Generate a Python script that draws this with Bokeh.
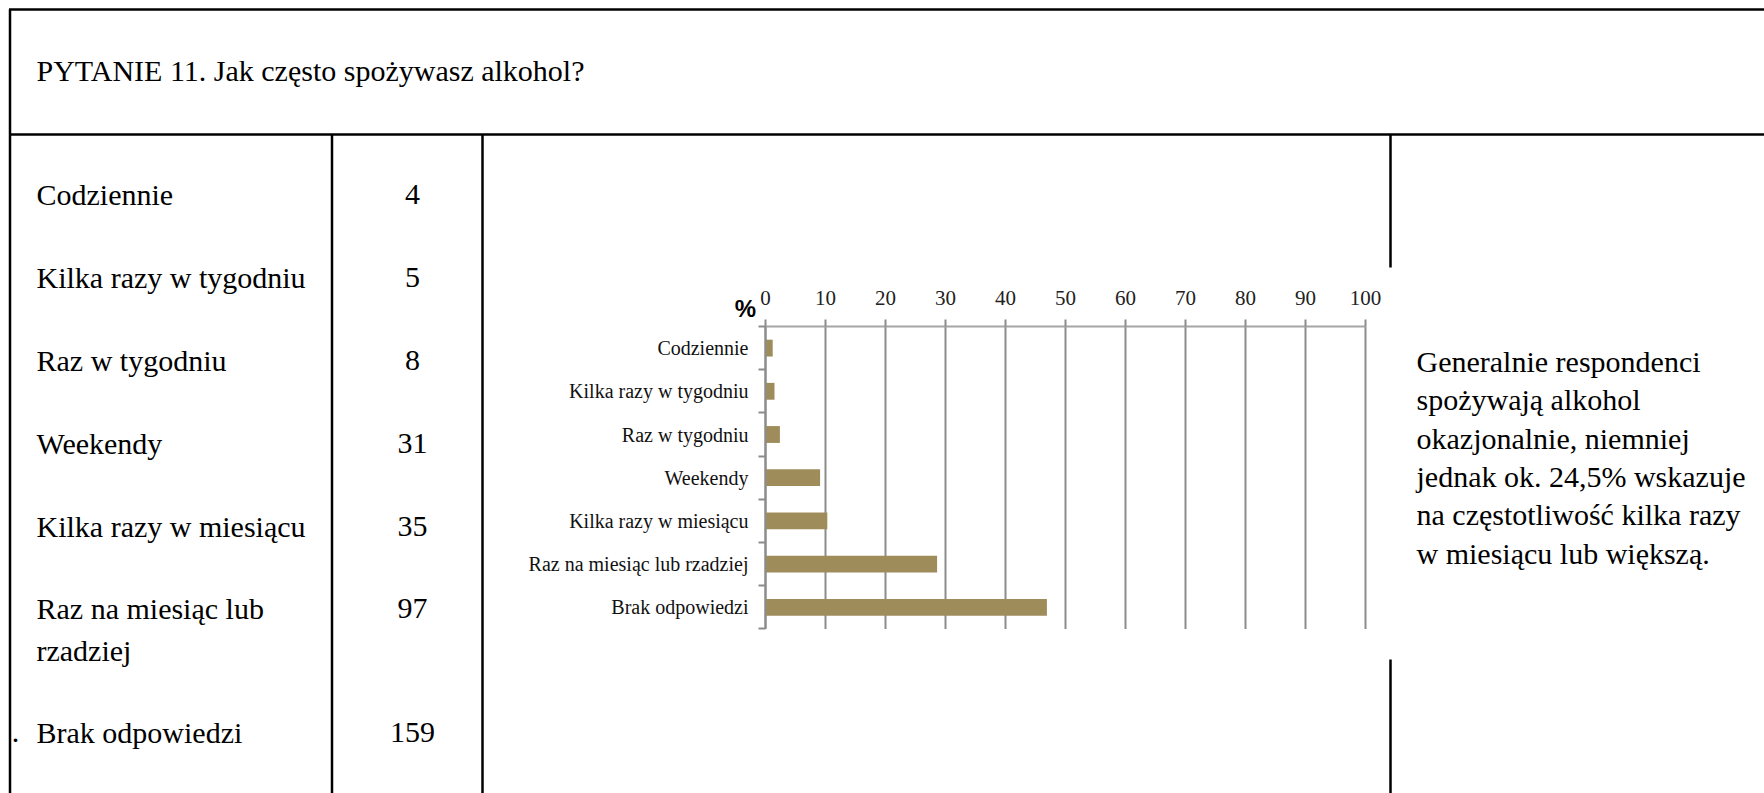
from bokeh.plotting import figure
from bokeh.models import Range1d, LinearAxis, FixedTicker
from bokeh.embed import file_html
from bokeh.resources import INLINE
from bokeh.core.properties import value

# ---------------- data ----------------
title_text = "PYTANIE 11. Jak często spożywasz alkohol?"
table_labels = ["Codziennie", "Kilka razy w tygodniu", "Raz w tygodniu", "Weekendy",
                "Kilka razy w miesiącu", "Raz na miesiąc lub\nrzadziej", "Brak odpowiedzi"]
table_counts = [4, 5, 8, 31, 35, 97, 159]
chart_categories = ["Codziennie", "Kilka razy w tygodniu", "Raz w tygodniu", "Weekendy",
                    "Kilka razy w miesiącu", "Raz na miesiąc lub rzadziej", "Brak odpowiedzi"]
chart_percent = [1.2, 1.5, 2.4, 9.1, 10.3, 28.6, 46.9]
x_ticks = [0, 10, 20, 30, 40, 50, 60, 70, 80, 90, 100]
axis_unit = "%"
comment_lines = ["Generalnie respondenci", "spożywają alkohol", "okazjonalnie, niemniej",
                 "jednak ok. 24,5% wskazuje", "na częstotliwość kilka razy",
                 "w miesiącu lub większą."]

# ---------------- layout (page pixels) ----------------
W, H = 1764, 793
OX, OY = 0, 0
BOTTOM = OY + H
RIGHT = OX + W
SERIF = value("Liberation Serif")

p = figure(width=W, height=H, x_range=Range1d(OX, RIGHT), y_range=Range1d(BOTTOM, OY),
           min_border=0, toolbar_location=None, output_backend="svg",
           x_axis_type=None, y_axis_type=None, outline_line_color=None,
           background_fill_color="white", border_fill_color="white")

# chart coordinate system (percent on x, category slots on y)
P0, PS = 765.0, 6.0      # pixel of 0 %, pixels per percent
C0, CS = 326.0, 43.2     # pixel of first slot top, pixels per slot
p.extra_x_ranges = {"pct": Range1d((OX - P0) / PS, (RIGHT - P0) / PS)}
p.extra_y_ranges = {"cat": Range1d((BOTTOM - C0) / CS, (OY - C0) / CS)}

# ---------------- table lines ----------------
seg_x0 = [8.5, 9.5, 9.5, 331.5, 482.0, 1390.0, 1390.0]
seg_y0 = [9.0, 134.0, 9.0, 134.0, 134.0, 134.0, 659.0]
seg_x1 = [RIGHT, RIGHT, 9.5, 331.5, 482.0, 1390.0, 1390.0]
seg_y1 = [9.0, 134.0, BOTTOM, BOTTOM, BOTTOM, 267.0, BOTTOM]
p.segment(x0=seg_x0, y0=seg_y0, x1=seg_x1, y1=seg_y1, line_color="black", line_width=2.5)

# header
p.text(x=[36], y=[70], text=[title_text], text_font=SERIF, text_font_size="30px",
       text_baseline="middle", text_align="left", text_color="black")

# table rows
row_y = [194, 277, 360, 442.5, 525.5, 608, 732]
lx, ly, lt = [], [], []
for lab, yy in zip(table_labels, row_y):
    for j, line in enumerate(lab.split("\n")):
        lx.append(36)
        ly.append(yy + j * 42)
        lt.append(line)
p.text(x=lx, y=ly, text=lt, text_font=SERIF, text_font_size="30px",
       text_baseline="middle", text_align="left", text_color="black")
p.text(x=[412] * len(table_counts), y=row_y, text=[str(c) for c in table_counts],
       text_font=SERIF, text_font_size="30px", text_baseline="middle",
       text_align="center", text_color="black")
p.text(x=[15], y=[732], text=["."], text_font=SERIF, text_font_size="30px",
       text_baseline="middle", text_align="center", text_color="black")

# comment
cy0, cstep = 361, 38.3
p.text(x=[1416] * len(comment_lines), y=[cy0 + i * cstep for i in range(len(comment_lines))],
       text=comment_lines, text_font=SERIF, text_font_size="30px",
       text_baseline="middle", text_align="left", text_color="black")

# ---------------- chart ----------------
n = len(chart_categories)
p.segment(x0=x_ticks, x1=x_ticks, y0=[0] * len(x_ticks), y1=[n] * len(x_ticks),
          x_range_name="pct", y_range_name="cat", line_color="#8C8C8C", line_width=2)
p.hbar(y=[i + 0.5 for i in range(n)], left=0, right=chart_percent, height=0.39,
       x_range_name="pct", y_range_name="cat", fill_color="#9E8C5A", line_color=None)

top_axis = LinearAxis(x_range_name="pct", y_range_name="cat", fixed_location=0,
                      ticker=FixedTicker(ticks=x_ticks, minor_ticks=[]), bounds=(0, 100),
                      axis_line_color="#A6A6A6", axis_line_width=2,
                      major_tick_in=0, major_tick_out=7, major_tick_line_color="#8C8C8C",
                      major_tick_line_width=2, minor_tick_line_color=None,
                      major_label_standoff=15, major_label_text_font="Liberation Serif",
                      major_label_text_font_size="21px", major_label_text_color="#222222")
p.add_layout(top_axis, "above")

centers = [i + 0.5 for i in range(n)]
left_axis = LinearAxis(x_range_name="pct", y_range_name="cat", fixed_location=0,
                       ticker=FixedTicker(ticks=centers, minor_ticks=list(range(n + 1))),
                       bounds=(0, n),
                       axis_line_color="#8C8C8C", axis_line_width=2,
                       major_tick_line_color=None, major_tick_in=0, major_tick_out=0,
                       minor_tick_in=0, minor_tick_out=7, minor_tick_line_color="#8C8C8C",
                       minor_tick_line_width=2,
                       major_label_overrides={c: lab for c, lab in zip(centers, chart_categories)},
                       major_label_standoff=10, major_label_text_font="Liberation Serif",
                       major_label_text_font_size="20px", major_label_text_color="#111111")
p.add_layout(left_axis, "left")

p.text(x=[745], y=[308], text=[axis_unit], text_font=value("Liberation Sans"),
       text_font_size="24px", text_font_style="bold", text_baseline="middle",
       text_align="center", text_color="black")

open("out.html", "w").write(file_html(p, INLINE))
